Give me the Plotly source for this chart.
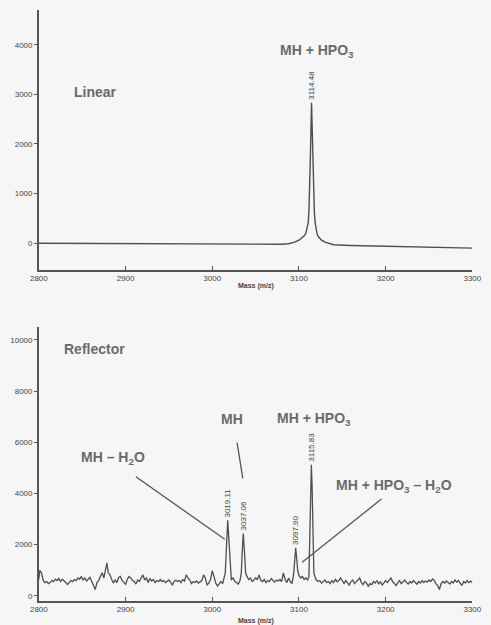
import plotly.graph_objects as go

# ---------------- data ----------------
linear_mass = [2800, 2850, 2900, 2950, 3000, 3050, 3080, 3088, 3095, 3100, 3103, 3106,
               3108, 3109.5, 3110.7, 3111.5, 3112.2, 3113.3, 3114.5, 3115.7, 3116.8,
               3117.8, 3118.8, 3119.6, 3121, 3123, 3126, 3130, 3140, 3160, 3200, 3250, 3300]
linear_int = [0, -5, -10, -15, -18, -20, -20, -10, 20, 60, 100, 150,
              200, 300, 420, 650, 1000, 1820, 2830, 1820, 1000,
              600, 400, 280, 180, 120, 60, 20, -30, -45, -65, -85, -100]

refl_mass = [2800, 2801, 2803, 2805, 2807, 2809, 2811, 2813, 2815, 2817, 2819, 2821, 2823, 2825,
             2827, 2829, 2831, 2833, 2835, 2837, 2839, 2841, 2843, 2845, 2847, 2849, 2851, 2853,
             2855, 2857, 2859, 2861, 2863, 2865, 2867, 2869, 2871, 2873, 2875, 2877, 2878.5, 2880,
             2882, 2884, 2886, 2888, 2890, 2892, 2894, 2896, 2898, 2900, 2902, 2904, 2906, 2908,
             2910, 2912, 2914, 2916, 2918, 2920, 2922, 2924, 2926, 2928, 2930, 2932, 2934, 2936,
             2938, 2940, 2942, 2944, 2946, 2948, 2950, 2952, 2954, 2956, 2958, 2960, 2962, 2964,
             2966, 2968, 2970, 2972, 2974, 2976, 2978, 2980, 2982, 2984, 2986, 2988, 2990, 2992,
             2994, 2996, 2998, 3000, 3002, 3004, 3006, 3008, 3010, 3012, 3013.5, 3015, 3016.5,
             3017.8, 3019, 3020.5, 3022, 3024, 3026, 3028, 3030, 3032, 3033.5, 3034.5, 3035.8,
             3037, 3038.5, 3040, 3042, 3044, 3046, 3048, 3050, 3052, 3054, 3056, 3058, 3060, 3062,
             3064, 3066, 3068, 3070, 3072, 3074, 3076, 3078, 3080, 3082, 3084, 3086, 3088, 3090,
             3092, 3094, 3095.2, 3096.2, 3097.3, 3098.5, 3100, 3102, 3104, 3106, 3108, 3110,
             3111.5, 3112.5, 3113.5, 3114.3, 3115.2, 3116.2, 3117.2, 3118.5, 3120, 3122, 3124,
             3126, 3128, 3130, 3132, 3134, 3136, 3138, 3140, 3142, 3144, 3146, 3148, 3150, 3152,
             3154, 3156, 3158, 3160, 3162, 3164, 3166, 3168, 3170, 3172, 3174, 3176, 3178, 3180,
             3182, 3184, 3186, 3188, 3190, 3192, 3194, 3196, 3198, 3200, 3202, 3204, 3206, 3208,
             3210, 3212, 3214, 3216, 3218, 3220, 3222, 3224, 3226, 3228, 3230, 3232, 3234, 3236,
             3238, 3240, 3242, 3244, 3246, 3248, 3250, 3252, 3254, 3256, 3258, 3260, 3262, 3264,
             3266, 3268, 3270, 3272, 3274, 3276, 3278, 3280, 3282, 3284, 3286, 3288, 3290, 3292,
             3294, 3296, 3298, 3300]
refl_int = [650, 1000, 900, 600, 520, 560, 480, 520, 600, 560, 650, 600, 680, 560,
            650, 600, 520, 440, 520, 600, 560, 640, 600, 700, 650, 760, 620, 700,
            580, 640, 720, 560, 400, 250, 520, 600, 760, 900, 700, 1000, 1290, 900,
            820, 640, 500, 620, 520, 720, 760, 600, 520, 450, 640, 760, 700, 600,
            560, 460, 620, 560, 700, 820, 620, 700, 520, 680, 580, 640, 520, 600,
            560, 640, 560, 600, 520, 580, 620, 540, 420, 560, 620, 560, 600, 520,
            640, 580, 820, 700, 620, 480, 560, 520, 580, 500, 560, 600, 820, 700,
            420, 500, 640, 980, 760, 500, 380, 480, 560, 480, 740, 900, 2000,
            2950, 2300, 1150, 620, 700, 560, 520, 460, 600, 900, 1700, 2430,
            1800, 900, 760, 640, 700, 560, 620, 700, 640, 820, 600, 560, 640, 520,
            600, 560, 680, 600, 540, 620, 580, 640, 560, 900, 640, 520, 700, 560,
            480, 900, 1500, 1880, 1500, 1000, 800, 700, 760, 640, 700, 620,
            760, 2000, 4200, 5120, 4200, 2000, 900, 750, 620, 560, 600,
            500, 560, 620, 520, 560, 480, 600, 520, 640, 560, 600, 700, 560, 480,
            600, 520, 420, 560, 620, 480, 560, 600, 700, 520, 440, 560, 500, 380,
            480, 440, 560, 500, 600, 460, 560, 420, 500, 600, 520, 620, 700, 560,
            480, 400, 520, 600, 480, 560, 620, 520, 460, 560, 500, 600, 540, 460,
            560, 500, 600, 520, 580, 540, 620, 560, 660, 600, 480, 400, 250, 480,
            560, 500, 580, 520, 460, 560, 500, 620, 540, 600, 480, 420, 560, 500,
            600, 520, 580, 520]

linear_peak_mass = [3114.5]
linear_peak_int = [2830]
linear_peak_labels = ["3114.48"]

refl_peak_mass = [3017.8, 3035.8, 3096.2, 3114.3]
refl_peak_int = [2950, 2430, 1880, 5120]
refl_peak_labels = ["3019.11", "3037.06", "3097.90", "3115.83"]

x_ticks = [2800, 2900, 3000, 3100, 3200, 3300]
linear_y_ticks = [0, 1000, 2000, 3000, 4000]
refl_y_ticks = [0, 2000, 4000, 6000, 8000, 10000]

# ---------------- styling ----------------
BG = "#f6f6f6"
LINE = "#4e4e4e"
AX = "#555555"
TXT = "#6a6a6a"
FONT = "Liberation Sans, Arial, sans-serif"

fig = go.Figure()
fig.add_trace(go.Scatter(x=linear_mass, y=linear_int, mode="lines",
                         line=dict(color=LINE, width=1.4), xaxis="x", yaxis="y",
                         showlegend=False, hoverinfo="skip"))
fig.add_trace(go.Scatter(x=refl_mass, y=refl_int, mode="lines",
                         line=dict(color=LINE, width=1.3), xaxis="x2", yaxis="y2",
                         showlegend=False, hoverinfo="skip"))

xdom = [31 / 491, 481 / 491]
common_x = dict(range=[2800, 3300], tickvals=x_ticks, showline=True, linecolor=AX,
                linewidth=1.5, ticks="inside", ticklen=4, tickcolor=AX, showgrid=False,
                zeroline=False, tickfont=dict(family=FONT, size=8, color="#444"),
                domain=xdom, fixedrange=True)
common_y = dict(showline=True, linecolor=AX, linewidth=1.5, ticks="outside", ticklen=3,
                tickcolor=AX, showgrid=False, zeroline=False, tickformat="d",
                tickfont=dict(family=FONT, size=8, color="#444"), fixedrange=True)

fig.update_layout(
    width=491, height=625, margin=dict(l=0, r=0, t=0, b=0),
    paper_bgcolor=BG, plot_bgcolor=BG, showlegend=False,
    xaxis=dict(common_x, anchor="y"),
    yaxis=dict(common_y, range=[-540, 4700], tickvals=linear_y_ticks,
               domain=[(625 - 270) / 625, (625 - 10) / 625], anchor="x"),
    xaxis2=dict(common_x, anchor="y2"),
    yaxis2=dict(common_y, range=[-200, 10500], tickvals=refl_y_ticks,
                domain=[(625 - 601) / 625, (625 - 327) / 625], anchor="x2"),
)

anns = []
def txt(text, x, y, xref, yref, size=14, xanchor="left", yanchor="middle", bold=True):
    anns.append(dict(text=f"<b>{text}</b>" if bold else text, x=x, y=y, xref=xref, yref=yref,
                     showarrow=False, xanchor=xanchor, yanchor=yanchor,
                     font=dict(family=FONT, size=size, color=TXT)))

# axis titles
for ypix in (286, 621):
    anns.append(dict(text="<b>Mass (m/z)</b>", x=0.5 * (xdom[0] + xdom[1]), xref="paper",
                     y=(625 - ypix) / 625, yref="paper", showarrow=False,
                     xanchor="center", yanchor="middle",
                     font=dict(family=FONT, size=7, color="#444")))

# peak labels
for m, v, lab in zip(linear_peak_mass, linear_peak_int, linear_peak_labels):
    anns.append(dict(text=lab, x=m, y=v, xref="x", yref="y", showarrow=False, textangle=-90,
                     xanchor="center", yanchor="bottom", yshift=1,
                     font=dict(family=FONT, size=8, color="#444")))
for m, v, lab in zip(refl_peak_mass, refl_peak_int, refl_peak_labels):
    anns.append(dict(text=lab, x=m, y=v, xref="x2", yref="y2", showarrow=False, textangle=-90,
                     xanchor="center", yanchor="bottom", yshift=1,
                     font=dict(family=FONT, size=8, color="#444")))

# panel labels
txt("Linear", 2837.8, 3047, "x", "y")
txt("MH + HPO<sub>3</sub>", 3075.6, 3873, "x", "y")
txt("Reflector", 2826.7, 9641, "x2", "y2")
txt("MH – H<sub>2</sub>O", 2846.3, 5400, "x2", "y2")
txt("MH", 3023.3, 6907, "x2", "y2", xanchor="center")
txt("MH + HPO<sub>3</sub>", 3072.2, 6900, "x2", "y2")
txt("MH + HPO<sub>3</sub> – H<sub>2</sub>O", 3140.3, 4300, "x2", "y2")

fig.update_layout(annotations=anns)

# leader lines
for (x0, y0, x1, y1) in [(2911.9, 4655, 3014.4, 2210),
                         (3028.6, 5982, 3035.2, 4592),
                         (3195.2, 3784, 3103.7, 1312)]:
    fig.add_shape(type="line", x0=x0, y0=y0, x1=x1, y1=y1, xref="x2", yref="y2",
                  line=dict(color="#555", width=1.3))

fig.write_html("out.html")
